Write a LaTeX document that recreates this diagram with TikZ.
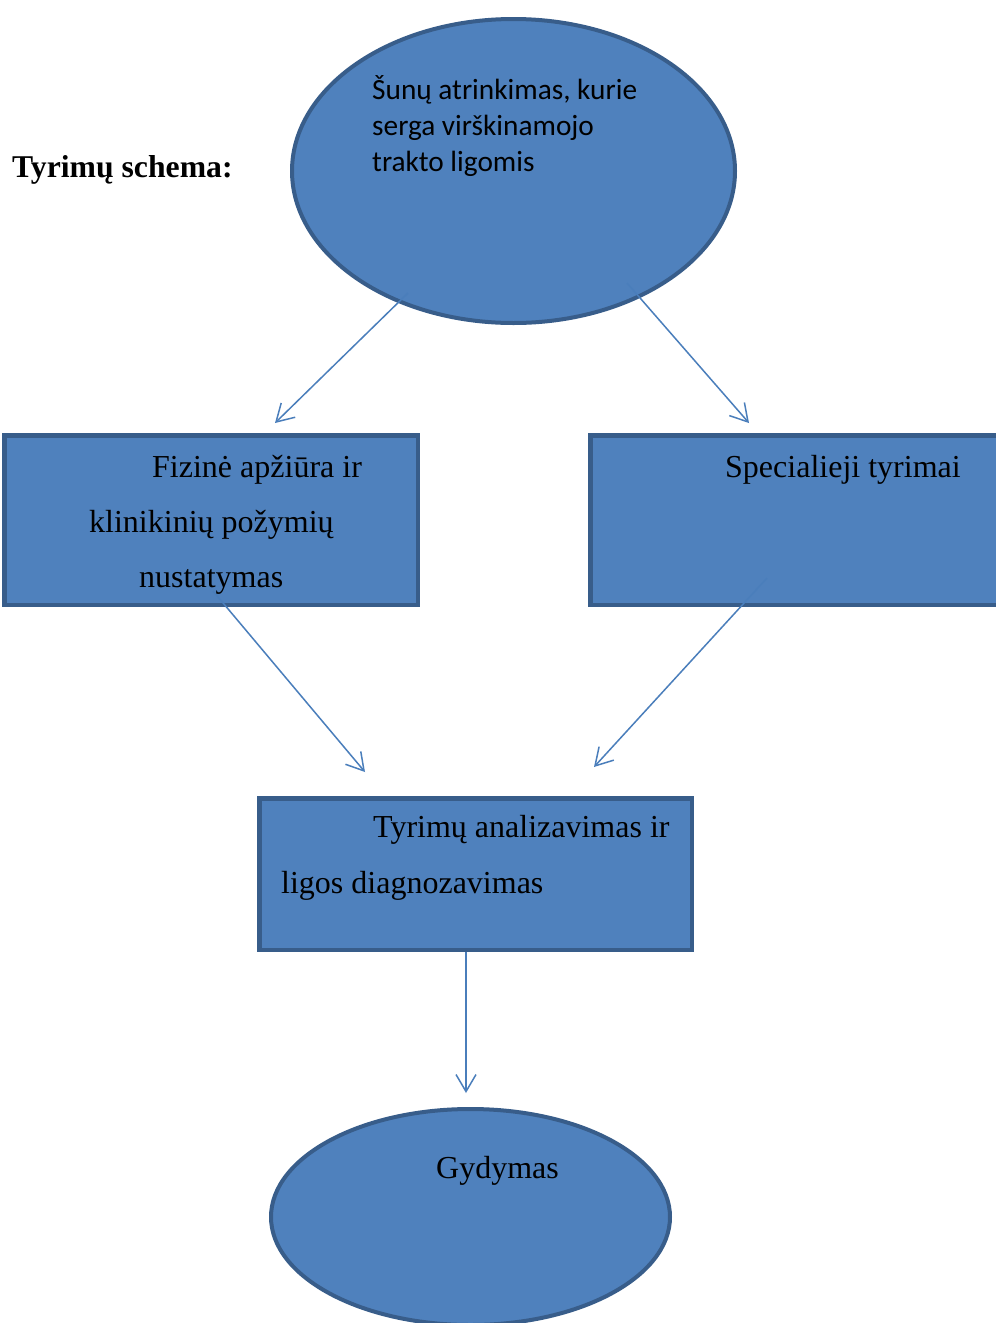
\documentclass[tikz,border=0pt]{standalone}
\usepackage{fontspec}
\setmainfont{Liberation Serif}
\newfontfamily\calib{Carlito}
\usetikzlibrary{shapes.geometric,arrows.meta}
\definecolor{shapefill}{HTML}{4F81BD}
\definecolor{shapeline}{HTML}{385D8A}
\definecolor{arrowcol}{HTML}{4A7EBB}
\tikzset{
  oval/.style={ellipse, draw=shapeline, fill=shapefill, line width=4pt, inner sep=0pt},
  boxshape/.style={rectangle, draw=shapeline, fill=shapefill, line width=4.5pt, inner sep=0pt},
  txt/.style={anchor=base west, inner sep=0pt, font=\fontsize{32}{55}\selectfont},
  sanstxt/.style={anchor=base west, inner sep=0pt, font=\calib\fontsize{29.3}{36}\selectfont},
  arr/.style={draw=arrowcol, line width=1.5pt, -{Straight Barb[length=17pt,width=20pt,line width=1.5pt]}}
}
\begin{document}
\begin{tikzpicture}[x=1pt,y=-1pt]
\useasboundingbox (0,0) rectangle (996,1323);
\clip (0,0) rectangle (996,1323);
\fill[white] (0,0) rectangle (996,1323);
% shapes
\node[oval, minimum width=443pt, minimum height=304pt] (top) at (513.5,171) {};
\node[boxshape, minimum width=413.5pt, minimum height=169.5pt] (left) at (211,520) {};
\node[boxshape, minimum width=417.5pt, minimum height=169.5pt] (right) at (799,520) {};
\node[boxshape, minimum width=432.5pt, minimum height=151.5pt] (mid) at (475.5,874) {};
\node[oval, minimum width=399pt, minimum height=216pt] (bot) at (470.5,1217) {};
% texts
\node[txt, font=\bfseries\fontsize{31.7}{40}\selectfont] (title) at (12,177) {Tyrimų schema:};
\node[sanstxt] (t1) at (372,99) {Šunų atrinkimas, kurie};
\node[sanstxt] (t2) at (372,135) {serga virškinamojo};
\node[sanstxt] (t3) at (372,171) {trakto ligomis};
\node[txt] (l1) at (152,477) {Fizinė apžiūra ir};
\node[txt] (l2) at (89,532) {klinikinių požymių};
\node[txt] (l3) at (139,587) {nustatymas};
\node[txt] (r1) at (725,477) {Specialieji tyrimai};
\node[txt] (m1) at (373,837) {Tyrimų analizavimas ir};
\node[txt] (m2) at (281,893) {ligos diagnozavimas};
\node[txt] (b1) at (436,1178) {Gydymas};
% connector ends
\coordinate (s1) at (408,293);
\coordinate (e1) at (275,423);
\coordinate (s2) at (627,283);
\coordinate (e2) at (749,423);
\coordinate (s3) at (213,591);
\coordinate (e3) at (365,772);
\coordinate (s4) at (767,578);
\coordinate (e4) at (594,767);
\coordinate (s5) at (466,952);
\coordinate (e5) at (466,1093);
\draw[arr] (s1) -- (e1);
\draw[arr] (s2) -- (e2);
\draw[arr] (s3) -- (e3);
\draw[arr] (s4) -- (e4);
\draw[arr] (s5) -- (e5);
\end{tikzpicture}
\end{document}
